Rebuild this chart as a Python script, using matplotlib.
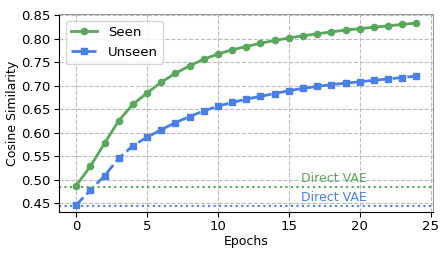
import numpy as np
import matplotlib
matplotlib.use('Agg')
import matplotlib.pyplot as plt

epochs = list(range(25))
seen = [0.487, 0.528, 0.577, 0.625, 0.660, 0.684, 0.707, 0.726, 0.742, 0.756,
        0.767, 0.776, 0.783, 0.790, 0.796, 0.801, 0.806, 0.810, 0.814, 0.818,
        0.821, 0.824, 0.827, 0.830, 0.833]
unseen = [0.446, 0.477, 0.508, 0.545, 0.572, 0.590, 0.606, 0.621, 0.634, 0.646,
          0.656, 0.664, 0.671, 0.677, 0.683, 0.689, 0.694, 0.698, 0.702, 0.705,
          0.708, 0.711, 0.714, 0.717, 0.720]
direct_seen = 0.485
direct_unseen = 0.444

green = '#58a85c'
blue = '#4a7fe6'

fig = plt.figure(figsize=(4.48, 2.56), dpi=100)
ax = fig.add_axes([0.132, 0.172, 0.834, 0.773])

ax.plot(epochs, seen, color=green, marker='o', markersize=4.5, linewidth=2, label='Seen')
ax.plot(epochs, unseen, color=blue, marker='s', markersize=5, linewidth=2,
        linestyle='--', label='Unseen')

ax.axhline(direct_seen, color=green, linestyle=':', linewidth=1.5)
ax.axhline(direct_unseen, color=blue, linestyle=':', linewidth=1.5)
ax.text(18.2, direct_seen + 0.003, 'Direct VAE', color=green, fontsize=9, ha='center', va='bottom')
ax.text(18.2, direct_unseen + 0.003, 'Direct VAE', color=blue, fontsize=9, ha='center', va='bottom')

ax.set_xlim(-1.2, 25.15)
ax.set_ylim(0.431, 0.852)
ax.set_xticks([0, 5, 10, 15, 20, 25])
ax.set_yticks([0.45, 0.50, 0.55, 0.60, 0.65, 0.70, 0.75, 0.80, 0.85])
ax.tick_params(labelsize=9.5, pad=2.5)
ax.set_xlabel('Epochs', fontsize=9, labelpad=1)
ax.set_ylabel('Cosine Similarity', fontsize=9, labelpad=2)
ax.grid(True, linestyle='--', color='#bbbbbb', linewidth=0.8)
for s in ['top', 'right']:
    ax.spines[s].set_color('#999999')

ax.legend(loc='upper left', fontsize=9.5)

plt.savefig('out.png', dpi=100)
